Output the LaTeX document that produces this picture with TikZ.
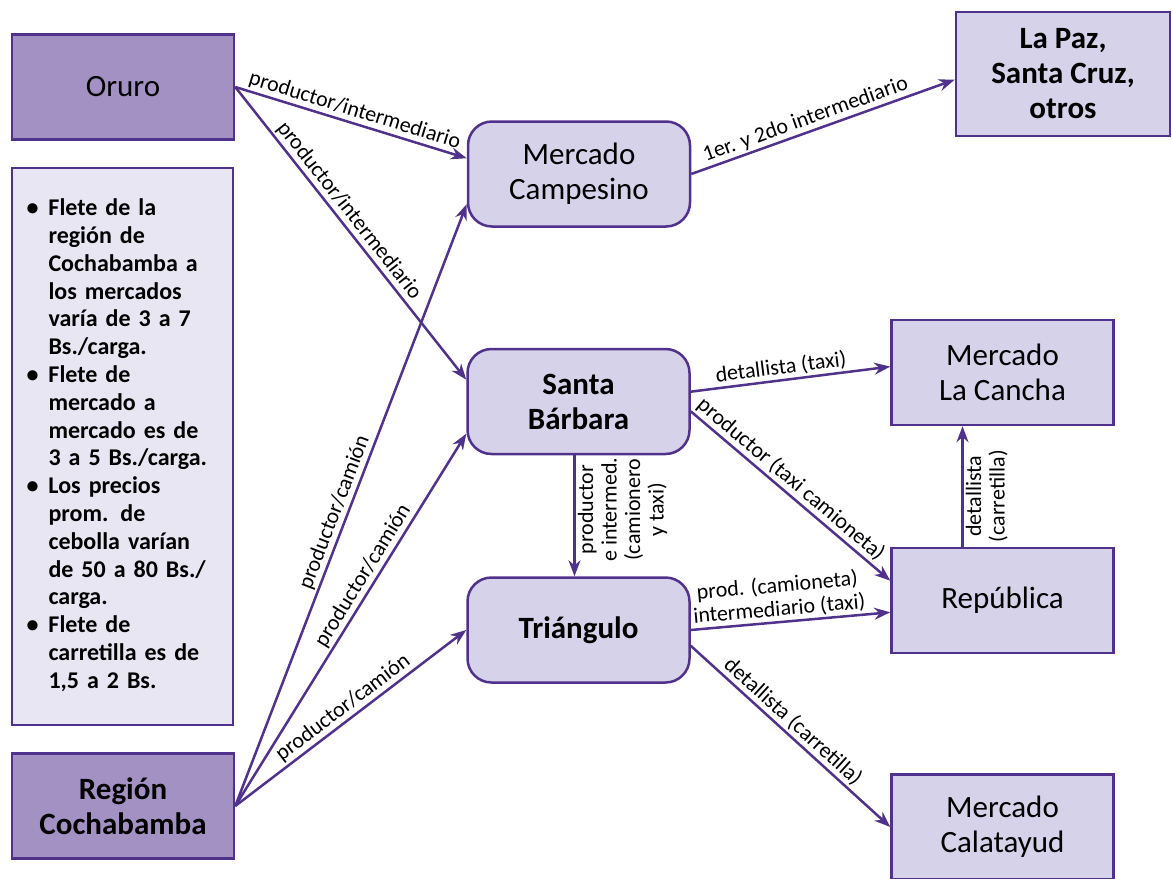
\documentclass[tikz,border=0pt]{standalone}
\usepackage{fontspec}
\setmainfont{Carlito}
\usetikzlibrary{positioning, arrows.meta}
\usepackage{xcolor}
\definecolor{linea}{RGB}{80,50,140}
\definecolor{oscuro}{RGB}{163,145,196}
\definecolor{claro}{RGB}{214,210,234}
\definecolor{nota}{RGB}{232,230,243}

\begin{document}
\begin{tikzpicture}[x=1pt, y=-1pt,
        caja/.style={rectangle, draw=linea, line width=2.5pt, fill=claro, align=center, inner sep=0pt,
            minimum width=222pt, minimum height=105pt, font=\fontsize{31}{35}\selectfont},
        negrita/.style={font=\fontsize{31}{35}\selectfont\bfseries},
        origen/.style={caja, fill=oscuro},
        mercado/.style={caja, rounded corners=24pt},
        flecha/.style={draw=linea, line width=2.5pt, -{Stealth[length=16pt, width=12pt]}},
        etiqueta/.style={font=\fontsize{22}{23.5}\selectfont, inner sep=2pt, align=center}]
        \useasboundingbox (0,0) rectangle (1172,878);
        % Nodes
        \node[origen] (oruro) at (123,87) {Oruro};
        \node[origen, negrita] (region) at (123,806) {Región\\Cochabamba};
        \node[caja, fill=nota, minimum width=221pt, minimum height=557pt, text width=192pt, align=left,
            font=\fontsize{24}{27.8}\selectfont\bfseries] (notas) at (122.5,446.5) {%
            \begin{tabular}{@{}p{22pt}@{}l@{}}
            \textbullet & Flete de la\\
             & región de\\
             & Cochabamba a\\
             & los mercados\\
             & varía de 3 a 7\\
             & Bs./carga.\\
            \textbullet & Flete de\\
             & mercado a\\
             & mercado es de\\
             & 3 a 5 Bs./carga.\\
            \textbullet & Los precios\\
             & prom. de\\
             & cebolla varían\\
             & de 50 a 80 Bs./\\
             & carga.\\
            \textbullet & Flete de\\
             & carretilla es de\\
             & 1,5 a 2 Bs.
            \end{tabular}};
        \node[mercado] (campesino) at (579,174) {Mercado\\Campesino};
        \node[mercado, negrita] (santab) at (578.5,401.5) {Santa\\Bárbara};
        \node[mercado, negrita] (triangulo) at (578.5,630) {Triángulo};
        \node[caja, negrita, minimum width=214pt, minimum height=124pt] (lapaz) at (1063,74) {La Paz,\\Santa Cruz,\\otros};
        \node[caja] (cancha) at (1002.5,372.5) {Mercado\\La Cancha};
        \node[caja] (republica) at (1002.5,600.5) {República};
        \node[caja] (calatayud) at (1002.5,827) {Mercado\\Calatayud};

        % Edges
        \draw[flecha] (oruro.east) -- node[etiqueta, sloped, above] {productor/intermediario} (campesino.172);
        \draw[flecha] (oruro.east) -- node[etiqueta, sloped, above, pos=0.45] {productor/intermediario} (santab.169);
        \draw[flecha] (campesino.east) -- node[etiqueta, sloped, above, pos=0.45] {1er. y 2do intermediario} (lapaz.183);
        \draw[flecha] (region.east) -- node[etiqueta, sloped, above, pos=0.48] {productor/camión} (campesino.195);
        \draw[flecha] (region.east) -- node[etiqueta, sloped, above, pos=0.6] {productor/camión} (santab.196);
        \draw[flecha] (region.east) -- node[etiqueta, sloped, above] {productor/camión} (triangulo.west);
        \draw[flecha] ([xshift=-4pt]santab.south) -- node[etiqueta, rotate=90, anchor=north, pos=0.45] {productor\\e intermed.\\(camionero\\y taxi)} ([xshift=-4pt]triangulo.north);
        \draw[flecha] (santab.5) -- node[etiqueta, sloped, above, pos=0.46] {detallista (taxi)} (cancha.177);
        \draw[flecha] (santab.355) -- node[etiqueta, sloped, above, pos=0.46] {productor (taxi camioneta)} (republica.170);
        \draw[flecha] (triangulo.east) -- node[etiqueta, sloped, above, pos=0.45] {prod. (camioneta)\\intermediario (taxi)} (republica.186);
        \draw[flecha] (triangulo.352) -- node[etiqueta, sloped, above, pos=0.47] {detallista (carretilla)} (calatayud.west);
        \draw[flecha] ([xshift=-40pt]republica.north) -- node[etiqueta, rotate=90, anchor=north, pos=0.42] {detallista\\(carretilla)} ([xshift=-40pt]cancha.south);
    \end{tikzpicture}
\end{document}
